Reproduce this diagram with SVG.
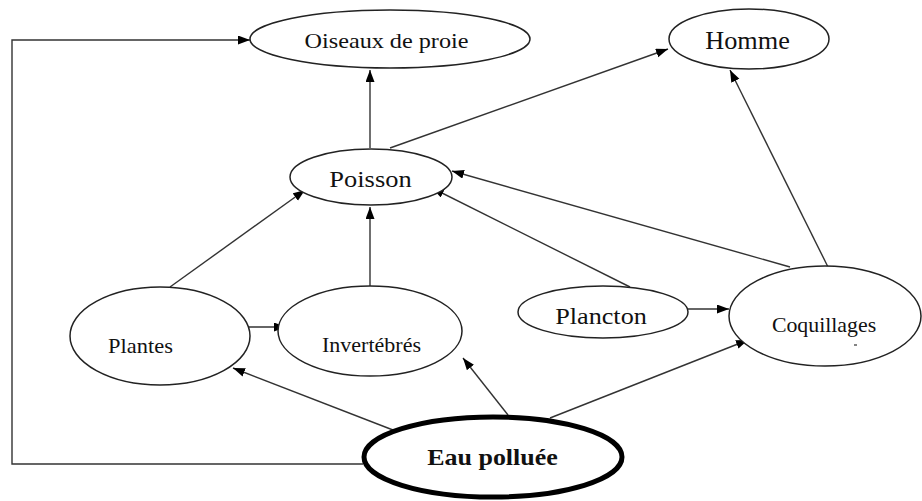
<svg xmlns="http://www.w3.org/2000/svg" width="922" height="501" viewBox="0 0 922 501">
<style>
.node{fill:#fff;stroke:#222;stroke-width:1.5}
.thick{fill:#fff;stroke:#000;stroke-width:5}
.lbl{fill:#111;text-anchor:middle;font-family:"Liberation Serif",Tinos,"Times New Roman",serif}
.edge{fill:none;stroke:#333;stroke-width:1.4;marker-end:url(#ah)}
</style>
<defs>
<marker id="ah" markerUnits="userSpaceOnUse" markerWidth="13" markerHeight="10" refX="12" refY="4.5" orient="auto">
<path d="M0,0 L12,4.5 L0,9 z" fill="#000"/>
</marker>
</defs>
<rect width="922" height="501" fill="#fff"/>
<g id="connectors">
<polyline class="edge" points="363,464 12,464 12,40 250,40"/>
<line class="edge" x1="370" y1="148" x2="370" y2="70"/>
<line class="edge" x1="390" y1="148" x2="668" y2="49"/>
<line class="edge" x1="170" y1="287" x2="305" y2="190"/>
<line class="edge" x1="370" y1="286" x2="370" y2="207"/>
<line class="edge" x1="630" y1="287" x2="432" y2="188"/>
<line class="edge" x1="790" y1="267" x2="452" y2="171"/>
<line class="edge" x1="828" y1="267" x2="730" y2="70"/>
<line class="edge" x1="249" y1="327" x2="286" y2="327"/>
<line class="edge" x1="393" y1="430" x2="233" y2="368"/>
<line class="edge" x1="508" y1="415" x2="463" y2="358"/>
<line class="edge" x1="550" y1="418" x2="748" y2="340"/>
<line class="edge" x1="688" y1="309" x2="729" y2="309"/>
</g>
<g id="oiseaux">
<ellipse class="node" cx="390" cy="39" rx="140" ry="29"/>
<text class="lbl" transform="translate(386.5,48) scale(1.1,1)" font-size="22">Oiseaux de proie</text>
</g>
<g id="homme">
<ellipse class="node" cx="749" cy="39" rx="80" ry="30"/>
<text class="lbl" transform="translate(747.5,49) scale(1.01,1)" font-size="26">Homme</text>
</g>
<g id="poisson">
<ellipse class="node" cx="371" cy="177" rx="81" ry="28"/>
<text class="lbl" transform="translate(370.5,187) scale(1.15,1)" font-size="23">Poisson</text>
</g>
<g id="plantes">
<ellipse class="node" cx="160" cy="336" rx="90" ry="49"/>
<text class="lbl" transform="translate(140.5,353) scale(1.02,1)" font-size="22">Plantes</text>
</g>
<g id="invertebres">
<ellipse class="node" cx="370" cy="331" rx="92" ry="45"/>
<text class="lbl" transform="translate(371.5,352)" font-size="22">Invertébrés</text>
</g>
<g id="plancton">
<ellipse class="node" cx="603" cy="312" rx="85" ry="26"/>
<text class="lbl" transform="translate(601,324) scale(1.14,1)" font-size="23">Plancton</text>
</g>
<g id="coquillages">
<ellipse class="node" cx="825" cy="316" rx="96" ry="50"/>
<text class="lbl" transform="translate(824,332) scale(1.04,1)" font-size="21">Coquillages</text>
<line x1="854" y1="345" x2="857" y2="345" stroke="#333" stroke-width="1.2"/>
</g>
<g id="eau">
<ellipse class="thick" cx="493" cy="457" rx="129" ry="40"/>
<text class="lbl" transform="translate(492.5,465) scale(1.13,1)" font-size="23" font-weight="bold">Eau polluée</text>
</g>
</svg>
